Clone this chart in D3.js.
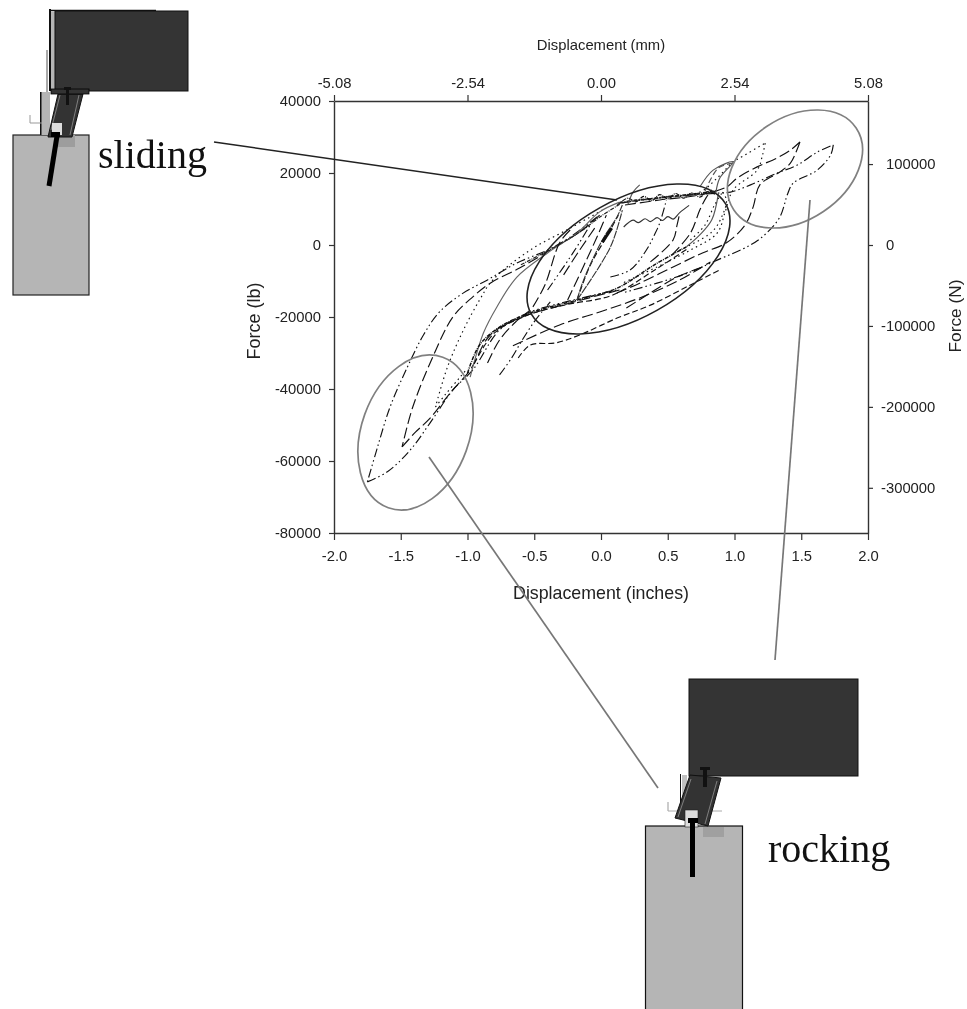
<!DOCTYPE html>
<html>
<head>
<meta charset="utf-8">
<script src="https://cdn.jsdelivr.net/npm/d3@7"></script>
<style>
  html, body { margin: 0; padding: 0; background: #fff; }
  svg { filter: blur(0.45px); }
  text { font-family: "Liberation Sans", Arial, sans-serif; fill: #222; }
  .big { font-family: "Liberation Serif", "Times New Roman", serif; font-size: 40px; fill: #111; }
</style>
</head>
<body>
<div id="chart"></div>
<script>
// tick labels
var inchTicks = [-2, -1.5, -1, -0.5, 0, 0.5, 1, 1.5, 2];
var mmTicks = [-5.08, -2.54, 0, 2.54, 5.08];
var lbTicks = [40000, 20000, 0, -20000, -40000, -60000, -80000];
var newtonTicks = [100000, 0, -100000, -200000, -300000];

// curves, [displacement in, force lb]
var outerNegLeg = [[-.03,7800],[-.23,2200],[-.40,-1400],[-.63,-5000],[-.85,-9700],[-1.03,-13300],[-1.21,-18600],[-1.33,-25000],[-1.45,-33900],[-1.58,-45000],[-1.68,-56900],[-1.75,-65800]];
var outerNegBack = [[-1.75,-65800],[-1.60,-63000],[-1.43,-57000],[-1.28,-49400],[-1.11,-40300],[-.96,-34700],[-.76,-23600],[-.55,-18900],[-.21,-15300],[.12,-12500]];
var outerPosLeg = [[.16,11700],[.42,13100],[.87,14400],[.97,14700],[1.12,16700],[1.32,20000],[1.47,22200],[1.62,25800],[1.74,27800]];
var outerPosBack = [[1.74,27800],[1.72,25000],[1.62,20800],[1.44,17200],[1.40,14400],[1.34,7800],[1.24,3300],[1.12,0],[.87,-4200],[.67,-7500],[.42,-10600],[.16,-13300]];

var midNegLeg = [[-.01,8300],[-.16,3600],[-.38,-1400],[-.61,-6400],[-.83,-10600],[-.96,-14400],[-1.11,-20000],[-1.26,-31100],[-1.41,-45000],[-1.49,-56100]];
var midNegBack = [[-1.49,-56100],[-1.39,-52000],[-1.28,-48100],[-1.13,-41100],[-.98,-34700],[-.83,-25000],[-.61,-20300],[-.23,-16100],[.14,-12500]];
var midPosLeg = [[.18,11100],[.44,12500],[.74,13900],[.94,16100],[1.02,18600],[1.17,21700],[1.32,24200],[1.42,26400],[1.49,28600]];
var midPosBack = [[1.49,28600],[1.42,22800],[1.34,20300],[1.19,16700],[1.14,10600],[1.08,5600],[.94,600],[.76,-2200],[.54,-6100],[.29,-10600],[.12,-13300]];

var dotPosLeg = [[.44,13100],[.74,14700],[.87,18600],[.99,23100],[1.04,24200],[1.23,28300]];
var dotPosBack = [[1.23,28300],[1.21,25000],[1.17,20800],[.99,15300],[.93,9200],[.87,3300],[.67,-1400],[.42,-6100],[.16,-10600]];
var dotNegLeg = [[.01,9700],[-.23,4700],[-.53,-1400],[-.81,-9700],[-.91,-15300],[-1.03,-23600],[-1.15,-33900],[-1.24,-45000]];
var dotNegBack = [[-1.24,-45000],[-1.17,-41700],[-1.06,-36900],[-1.0,-34200]];

var thinNegLeg = [[.14,11900],[-.01,9200],[-.18,3300],[-.40,-2200],[-.63,-8900],[-.78,-17200],[-.88,-24400],[-.98,-36700]];
var lowerBand = [[-1.0,-35600],[-.91,-27800],[-.76,-22800],[-.51,-18600],[-.18,-15300],[.12,-12000],[.40,-5500],[.64,-500]];
var lowerBand2 = [[-.95,-33000],[-.80,-24500],[-.55,-19500],[-.25,-16500],[.08,-14000],[.40,-7000],[.65,-1000]];
var lowerBandEnd = [[.64,-500],[.74,2800],[.83,7000],[.88,14500]];
var plateau = [[.14,11700],[.26,12400],[.38,12800],[.5,13400],[.62,13800],[.74,14300],[.87,15000]];
var plateau2 = [[.12,11000],[.2,13000],[.26,12000],[.32,13500],[.38,12300],[.44,14000],[.5,12800],[.56,14300],[.62,13000],[.68,14500],[.74,13300],[.8,14800],[.86,14000]];
var plateauLow = [[.17,5000],[.24,6900],[.28,6200],[.33,7300],[.37,6500],[.42,7600],[.46,6800],[.5,7900],[.54,7200],[.59,9000],[.66,11000]];
var centerThick = [[.01,800],[.08,4700]];
var centerSteep = [[-.18,-15300],[-.13,-9700],[.01,1400],[.12,7800],[.16,11100]];
var centerSteep2 = [[-.18,-15300],[.07,-600],[.16,9700]];
var spike = [[.20,11100],[.24,14700],[.29,16700]];
var upperSolid = [[.74,16100],[.84,20800],[.99,23100],[.89,18600],[.86,14500]];
var upperSolid2 = [[.78,15000],[.88,21400],[1.0,22800]];
var upperLeftBand = [[-.60,-5500],[-.35,-600],[-.15,3800],[.0,8000],[.14,11300]];

var steep1 = [[.07,-8900],[.22,-6900],[.34,-1400],[.40,2800],[.44,6100],[.49,12500]];
var steep2 = [[.37,-4700],[.54,1400],[.57,5600],[.59,8900]];
var steep3 = [[.53,-2800],[.67,3300],[.74,9700],[.79,13300],[.83,15300]];
var steep4 = [[.67,1400],[.78,5600],[.85,11100],[.91,14700]];
var steep5 = [[.59,-1400],[.83,3600],[.91,8300],[.94,12500],[.91,14700]];

var left1 = [[-.51,-17200],[-.42,-11100],[-.31,600],[-.23,4200]];
var left2 = [[-.40,-12500],[-.21,-2200],[-.08,5600]];
var left3 = [[-.25,-15300],[-.03,2200],[.04,8300]];
var left4 = [[-.18,-15300],[-.08,-5600],[.04,2200],[.13,8300]];
var left5 = [[-.28,-8300],[-.16,-1400],[-.03,5600]];

var tail1 = [[-.76,-36100],[-.67,-31400],[-.59,-26400],[-.49,-20800],[-.38,-15800]];
var tail2 = [[-.85,-32800],[-.76,-26400],[-.64,-21400],[-.53,-18100]];
var tail3 = [[-.62,-31400],[-.53,-27800],[-.34,-27200],[-.16,-25000],[.12,-20300],[.37,-16700],[.67,-11100],[.89,-6900]];
var tail4 = [[-.66,-28000],[-.31,-22200],[-.01,-18600],[.29,-14700],[.59,-9700],[.82,-4700]];
var tail5 = [[.19,-17500],[.37,-13300],[.57,-8900],[.76,-6100]];

var width = 967, height = 1009;
var left = 334, right = 868, top_ = 101, bottom = 533;

var svg = d3.select("#chart").append("svg")
  .attr("width", width)
  .attr("height", height)
  .style("display", "block");

var x = d3.scaleLinear().domain([-2, 2]).range([left, right]);
var xMm = d3.scaleLinear().domain([-5.08, 5.08]).range([left, right]);
var y = d3.scaleLinear().domain([-80000, 40000]).range([bottom, top_]);
// 1 lb = 4.448 N
var yN = d3.scaleLinear().domain([-80000 * 4.448, 40000 * 4.448]).range([bottom, top_]);

var line = d3.line()
  .x(function(d) { return x(d[0]); })
  .y(function(d) { return y(d[1]); })
  .curve(d3.curveCatmullRom.alpha(0.5));

var DASHDOT = "9,3,1.5,3,1.5,3", DASH = "11,4", DOT = "1.5,3.5", SOLID = null, SHORT = "6,3", DENSE = "4,1,1,1";

// curve, dash, colour, width
var curves = [
  [outerNegLeg, DASHDOT], [outerNegBack, DASHDOT], [outerPosLeg, DASHDOT], [outerPosBack, DASHDOT],
  [midNegLeg, DASH], [midNegBack, DASH], [midPosLeg, DASH], [midPosBack, DASH],
  [dotPosLeg, DOT], [dotPosBack, DOT], [dotNegLeg, DOT], [dotNegBack, DOT],
  [thinNegLeg, SOLID, "#666"], [lowerBand, DENSE, "#111", 1.5], [lowerBand2, SHORT], [lowerBandEnd, SOLID, "#555"],
  [plateau, DENSE, "#222", 2], [plateau2, DENSE, "#111", 1.2], [plateauLow, SOLID, "#333"],
  [spike, SOLID, "#555"], [upperSolid, SOLID, "#555"], [upperSolid2, SHORT, "#555"], [upperLeftBand, DENSE, "#222", 1.2],
  [steep1, DASHDOT], [steep2, DASH], [steep3, DASH], [steep4, DOT], [steep5, DOT],
  [left1, DASH], [left2, DASHDOT], [left3, DASH], [left4, SHORT], [left5, DASH],
  [tail1, DASHDOT], [tail2, DASH], [tail3, SHORT], [tail4, DASH], [tail5, DASH],
  [centerSteep, "8,1", "#333", 1.1], [centerSteep2, "8,1", "#333", 1.1], [centerThick, SOLID, "#111", 3]
];

svg.append("g").attr("class", "curves")
  .selectAll("path")
  .data(curves)
  .enter().append("path")
  .attr("d", function(d) { return line(d[0]); })
  .attr("fill", "none")
  .attr("stroke", function(d) { return d[2] || "#111"; })
  .attr("stroke-width", function(d) { return d[3] || 1.15; })
  .attr("stroke-dasharray", function(d) { return d[1]; });

// plain hyphen in the labels, like the original
function hyphen(fmt) {
  var f = d3.format(fmt);
  return function(d) { return f(d).replace("\u2212", "-"); };
}
function styleAxis(g) {
  g.selectAll("path").attr("stroke", "#333").attr("stroke-width", 1.4);
  g.selectAll("line").attr("stroke", "#333").attr("stroke-width", 1.2);
  g.selectAll("text").attr("font-family", "Liberation Sans").attr("font-size", 14.8).attr("fill", "#222");
}

svg.append("g").attr("transform", "translate(0," + bottom + ")")
  .call(d3.axisBottom(x).tickValues(inchTicks).tickSize(7).tickSizeOuter(0).tickPadding(10).tickFormat(hyphen(".1f")))
  .call(styleAxis);
svg.append("g").attr("transform", "translate(0," + top_ + ")")
  .call(d3.axisTop(xMm).tickValues(mmTicks).tickSize(6).tickSizeOuter(0).tickPadding(7).tickFormat(hyphen(".2f")))
  .call(styleAxis);
svg.append("g").attr("transform", "translate(" + left + ",0)")
  .call(d3.axisLeft(y).tickValues(lbTicks).tickSize(5).tickSizeOuter(0).tickPadding(8).tickFormat(hyphen("d")))
  .call(styleAxis);
var rightAxis = svg.append("g").attr("transform", "translate(" + right + ",0)")
  .call(d3.axisRight(yN).tickValues(newtonTicks).tickSize(5).tickSizeOuter(0).tickPadding(13).tickFormat(hyphen("d")))
  .call(styleAxis);
// minus signs hang to the left of the number column
rightAxis.selectAll("text").attr("dx", function(d) { return d < 0 ? -5 : 0; });

svg.append("text").attr("x", 601).attr("y", 50).attr("text-anchor", "middle").attr("font-size", 14.8).text("Displacement (mm)");
svg.append("text").attr("x", 601).attr("y", 599).attr("text-anchor", "middle").attr("font-size", 17.8).text("Displacement (inches)");
svg.append("text").attr("transform", "translate(260,321) rotate(-90)").attr("text-anchor", "middle").attr("font-size", 18).text("Force (lb)");
svg.append("text").attr("transform", "translate(961,316) rotate(-90)").attr("text-anchor", "middle").attr("font-size", 17.3).text("Force (N)");

// circled regions and leader lines
function ring(cx, cy, rx, ry, angle, color, w) {
  svg.append("ellipse")
    .attr("rx", rx).attr("ry", ry)
    .attr("transform", "translate(" + cx + "," + cy + ") rotate(" + angle + ")")
    .attr("fill", "none").attr("stroke", color).attr("stroke-width", w);
}
ring(628.5, 259, 111.7, 58.7, -29.4, "#222", 1.6);
ring(795, 169, 73.6, 51.1, -33.8, "#808080", 1.7);
ring(415.5, 432.5, 53.9, 80, 19.9, "#808080", 1.7);

function seg(x1, y1, x2, y2, color, w) {
  return svg.append("line").attr("x1", x1).attr("y1", y1).attr("x2", x2).attr("y2", y2)
    .attr("stroke", color).attr("stroke-width", w);
}
seg(214, 142, 617, 200, "#222", 1.5);
seg(429, 457, 658, 788, "#777", 1.7);
seg(810, 200, 775, 660, "#777", 1.7);

// connection sketches
function box(x0, y0, x1, y1, fill, stroke, w) {
  return svg.append("rect").attr("x", x0).attr("y", y0).attr("width", x1 - x0).attr("height", y1 - y0)
    .attr("fill", fill).attr("stroke", stroke || "none").attr("stroke-width", w || 0);
}
function poly(pts, fill, stroke, w) {
  return svg.append("polygon").attr("points", pts).attr("fill", fill)
    .attr("stroke", stroke || "none").attr("stroke-width", w || 0);
}

// sliding
box(13, 135, 89, 295, "#b5b5b5", "#222", 1.2);
box(58, 135, 75, 147, "#9d9d9d");
box(41, 92, 50, 135, "#b5b5b5");
box(40, 92, 41.5, 135, "#111");
seg(30, 115, 30, 123, "#999", 1);
seg(30, 123, 42, 123, "#999", 1);
box(51, 12, 56, 90, "#b5b5b5");
box(49, 9, 51, 91, "#111");
seg(49, 10.5, 156, 10.5, "#111", 1.6);
seg(47, 50, 47, 92, "#555", 1);
box(55, 11, 188, 91, "#343434", "#111", 1);
poly("58,94 83,94 72,137 48,137", "#333", "#111", 1);
seg(60, 95, 51, 130, "#888", 0.9);
seg(79, 95, 70, 135, "#888", 0.9);
box(51, 89, 89, 94, "#333", "#000", 0.8);
box(64, 87, 71, 90, "#111");
box(66, 90, 69, 105, "#111");
box(52, 123, 62, 135, "#ddd");
box(51, 132, 60, 137, "#000");
seg(57, 136, 49, 186, "#000", 5);
svg.append("text").attr("class", "big").attr("x", 98).attr("y", 168).text("sliding");

// rocking
box(645.5, 826, 742.5, 1012, "#b5b5b5", "#111", 1.2);
box(703, 827, 724, 837, "#a0a0a0");
seg(668, 802, 668, 811, "#999", 1);
seg(668, 811, 722, 811, "#aaa", 1);
box(680, 774, 681, 810, "#111");
box(682, 775, 687, 800, "#c0c0c0");
box(689, 679, 858, 776, "#343434", "#111", 1);
poly("690,775 721,778 708,826 675,818", "#333", "#111", 1);
seg(691, 779, 678, 817, "#888", 0.9);
seg(717, 781, 705, 824, "#888", 0.9);
box(700, 767, 710, 770, "#111");
box(703, 770, 707, 787, "#111");
box(685, 810, 698, 827, "#ddd", "#222", 0.6);
box(688, 818, 698, 823, "#000");
box(690, 820, 695, 877, "#000");
svg.append("text").attr("class", "big").attr("x", 768).attr("y", 862).text("rocking");
</script>
</body>
</html>
